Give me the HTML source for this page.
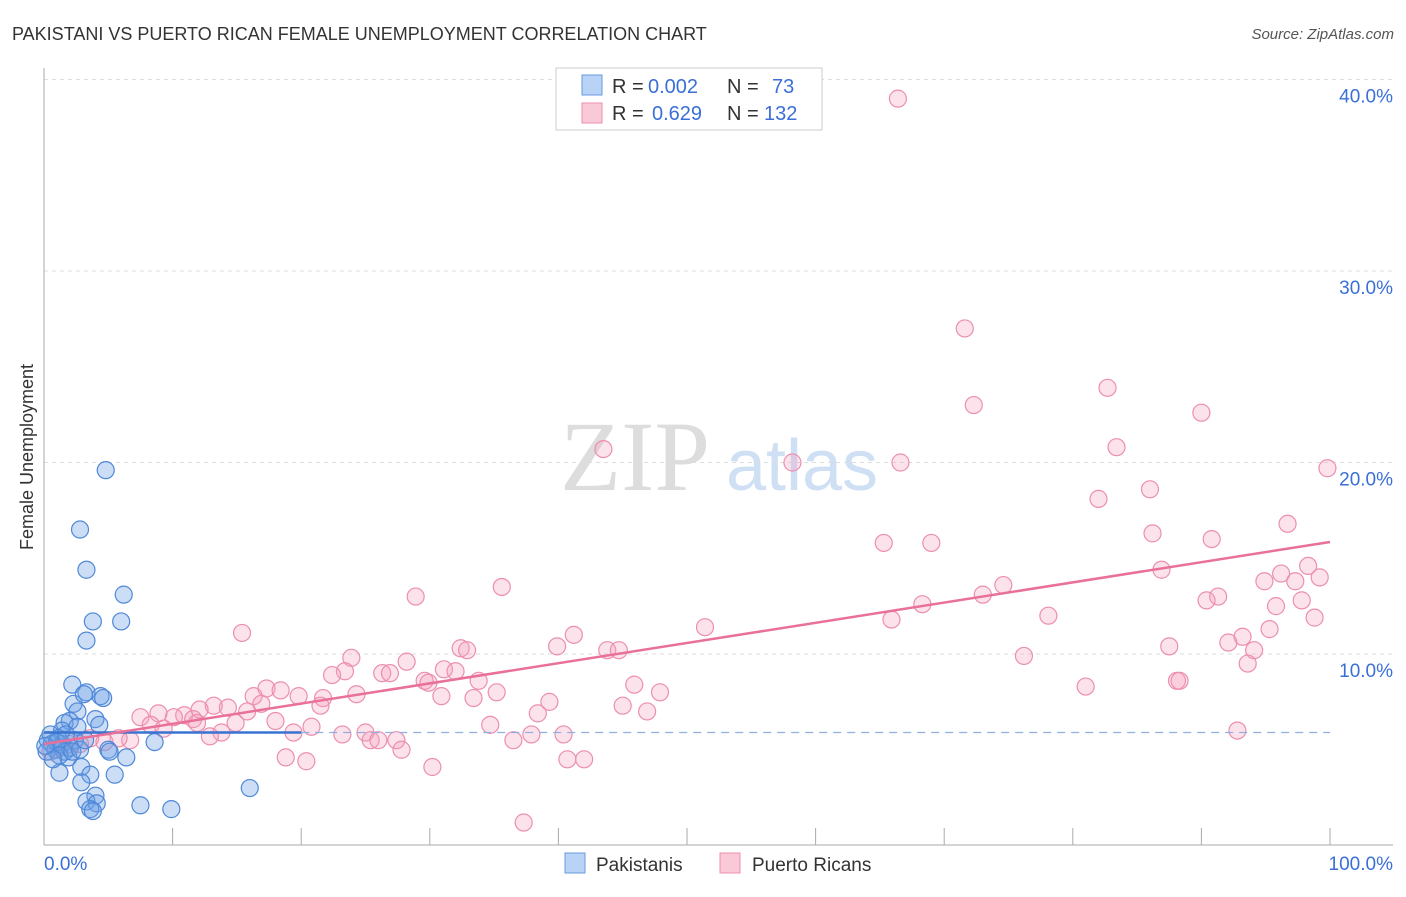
<!DOCTYPE html>
<html><head><meta charset="utf-8">
<style>
body{margin:0;background:#fff;font-family:"Liberation Sans",sans-serif;}
svg text{font-family:"Liberation Sans",sans-serif;}
svg text.serif{font-family:"Liberation Serif",serif;}
</style></head>
<body>
<svg id="chart" width="1406" height="892" xmlns="http://www.w3.org/2000/svg">
<text x="12" y="40" font-size="18" fill="#333">PAKISTANI VS PUERTO RICAN FEMALE UNEMPLOYMENT CORRELATION CHART</text>
<text x="1394" y="39" font-size="15" fill="#555" text-anchor="end" font-style="italic">Source: ZipAtlas.com</text>
<text transform="translate(33,457) rotate(-90)" font-size="18" fill="#333" text-anchor="middle">Female Unemployment</text>
<g>
<text class="serif" x="635" y="490" font-size="100" fill="#ddd" text-anchor="middle">ZIP</text>
<text x="802" y="490" font-size="72" fill="#cfe0f5" text-anchor="middle">atlas</text>
</g>
<g id="grid"></g>
<g id="marks"></g>
<g>
<rect x="556" y="68" width="266" height="62" fill="#fff" stroke="#ccc"/>
<rect x="582" y="75" width="20" height="20" fill="#b8d3f5" stroke="#6a9ae0"/>
<rect x="582" y="103" width="20" height="20" fill="#f9c9d8" stroke="#ee90ae"/>
<text x="612" y="93" font-size="20" fill="#333">R =</text>
<text x="648" y="93" font-size="20" fill="#3a6fd8">0.002</text>
<text x="727" y="93" font-size="20" fill="#333">N =</text>
<text x="772" y="93" font-size="20" fill="#3a6fd8">73</text>
<text x="612" y="120" font-size="20" fill="#333">R =</text>
<text x="652" y="120" font-size="20" fill="#3a6fd8">0.629</text>
<text x="727" y="120" font-size="20" fill="#333">N =</text>
<text x="764" y="120" font-size="20" fill="#3a6fd8">132</text>
</g>
<g>
<rect x="565" y="853" width="20" height="20" fill="#b8d3f5" stroke="#6a9ae0"/>
<text x="596" y="871" font-size="19" fill="#333">Pakistanis</text>
<rect x="720" y="853" width="20" height="20" fill="#f9c9d8" stroke="#ee90ae"/>
<text x="752" y="871" font-size="19" fill="#333">Puerto Ricans</text>
</g>
</svg>
<script>
const yTicks=[10,20,30,40];
const yTickLabels=["10.0%","20.0%","30.0%","40.0%"];
const xTickLabels=["0.0%","100.0%"];
const pakX=[4.8,2.8,3.3,6.2,3.8,6.0,3.3,2.2,3.3,4.4,4.6,2.3,3.1,2.6,4.0,2.0,1.6,4.3,1.4,2.6,8.6,5.0,6.4,5.1,1.9,2.9,1.2,3.6,5.5,2.9,16.0,4.0,3.3,4.1,7.5,9.9,3.6,3.8,0.3,0.6,0.9,1.1,1.4,1.6,0.5,2.0,2.4,1.0,0.2,1.7,1.2,2.2,2.8,0.7,3.2,0.1];
const pakY=[19.6,16.5,14.4,13.1,11.7,11.7,10.7,8.4,8.0,7.8,7.7,7.4,7.9,7.0,6.6,6.5,6.4,6.3,6.0,6.2,5.4,5.0,4.6,4.9,4.6,4.1,3.8,3.7,3.7,3.3,3.0,2.6,2.3,2.2,2.1,1.9,1.9,1.8,5.5,5.3,5.0,5.6,5.3,4.9,5.8,5.1,5.5,5.4,4.9,5.8,4.7,4.9,5.0,4.5,5.5,5.2];
const prX=[66.4,71.6,72.3,82.7,90.0,83.4,99.8,43.5,58.2,66.6,82.0,86.0,86.2,96.7,65.3,69.0,90.8,86.9,98.3,96.2,94.9,97.3,99.2,74.6,73.0,91.3,90.4,97.8,68.3,95.8,78.1,65.9,98.8,95.3,35.6,28.9,51.4,41.2,93.2,92.1,39.9,87.5,94.1,15.4,32.4,32.9,43.8,44.7,76.2,23.9,28.2,93.6,31.1,32.0,23.4,26.3,26.9,22.4,29.6,29.9,33.8,88.1,88.3,45.9,81.0,17.3,18.4,47.9,35.2,16.3,24.3,30.9,19.8,21.7,33.4,16.9,39.3,13.2,14.3,21.5,45.0,12.1,46.9,15.8,38.4,8.9,10.9,10.1,7.5,11.6,11.9,18.0,8.3,14.9,20.8,34.7,9.3,92.8,13.8,12.9,19.4,23.2,25.0,37.9,40.4,25.4,26.0,27.4,6.7,5.8,36.5,27.8,18.8,20.4,40.7,42.0,30.2,37.3,3.6,4.7,2.8,2.0,1.2,0.5];
const prY=[39.0,27.0,23.0,23.9,22.6,20.8,19.7,20.7,20.0,20.0,18.1,18.6,16.3,16.8,15.8,15.8,16.0,14.4,14.6,14.2,13.8,13.8,14.0,13.6,13.1,13.0,12.8,12.8,12.6,12.5,12.0,11.8,11.9,11.3,13.5,13.0,11.4,11.0,10.9,10.6,10.4,10.4,10.2,11.1,10.3,10.2,10.2,10.2,9.9,9.8,9.6,9.5,9.2,9.1,9.1,9.0,9.0,8.9,8.6,8.5,8.6,8.6,8.6,8.4,8.3,8.2,8.1,8.0,8.0,7.8,7.9,7.8,7.8,7.7,7.7,7.4,7.5,7.3,7.2,7.3,7.3,7.1,7.0,7.0,6.9,6.9,6.8,6.7,6.7,6.6,6.4,6.5,6.3,6.4,6.2,6.3,6.1,6.0,5.9,5.7,5.9,5.8,5.9,5.8,5.8,5.5,5.5,5.5,5.5,5.6,5.5,5.0,4.6,4.4,4.5,4.5,4.1,1.2,5.6,5.4,5.3,5.3,5.1,4.9];
const pakTrend=[5.9,5.9];
const prTrend=[5.3,15.85];

const X=v=>44+v*12.86;
const Y=v=>845.5-v*19.15;
const NS="http://www.w3.org/2000/svg";
function mk(tag,attrs,parent){const e=document.createElementNS(NS,tag);for(const k in attrs)e.setAttribute(k,attrs[k]);parent.appendChild(e);return e;}
const grid=document.getElementById('grid');
const marks=document.getElementById('marks');
yTicks.forEach((t,i)=>{
 const l=mk('line',{x1:44,x2:1393,y1:Y(t),y2:Y(t),stroke:'#ddd','stroke-dasharray':'4,4'},grid);
 
 
 const tx=mk('text',{x:1393,y:Y(t)+23,'font-size':19,fill:'#3a6fd8','text-anchor':'end'},grid);
 tx.textContent=yTickLabels[i];
 
 
});
const ax=mk('line',{x1:44,x2:44,y1:68,y2:845,stroke:'#aaa'},grid);


const bx=mk('line',{x1:44,x2:1393,y1:845,y2:845,stroke:'#aaa'},grid);


for(let i=0;i<=10;i++){
 const t=mk('line',{x1:X(i*10),x2:X(i*10),y1:828,y2:845,stroke:'#aaa'},grid);
 
 
}
[[0,'start',44],[100,'end',1393]].forEach((d,i)=>{
 const tx=mk('text',{x:d[2],y:870,'font-size':19,fill:'#3a6fd8','text-anchor':d[1]},grid);
 tx.textContent=xTickLabels[i];
 
 
});
prX.forEach((v,i)=>{
 const c=mk('circle',{cx:X(v),cy:Y(prY[i]),r:8.5,fill:'rgba(244,160,188,0.3)',stroke:'#ec8fae','stroke-width':1.2},marks);
 
 
});
pakX.forEach((v,i)=>{
 const c=mk('circle',{cx:X(v),cy:Y(pakY[i]),r:8.5,fill:'rgba(110,160,230,0.35)',stroke:'#4f88d8','stroke-width':1.2},marks);
 
 
});
const pl=mk('line',{x1:X(0),y1:Y(pakTrend[0]),x2:X(20),y2:Y(pakTrend[0]+(pakTrend[1]-pakTrend[0])*0.2),stroke:'#3a72d0','stroke-width':2.5},marks);


const pd=mk('line',{x1:X(20),y1:Y(pakTrend[0]+(pakTrend[1]-pakTrend[0])*0.2),x2:X(100),y2:Y(pakTrend[1]),stroke:'#8fb0e0','stroke-width':1.2,'stroke-dasharray':'8,6'},marks);


const rl=mk('line',{x1:X(0),y1:Y(prTrend[0]),x2:X(100),y2:Y(prTrend[1]),stroke:'#e8709a','stroke-width':2.5},marks);


</script>
</body></html>
